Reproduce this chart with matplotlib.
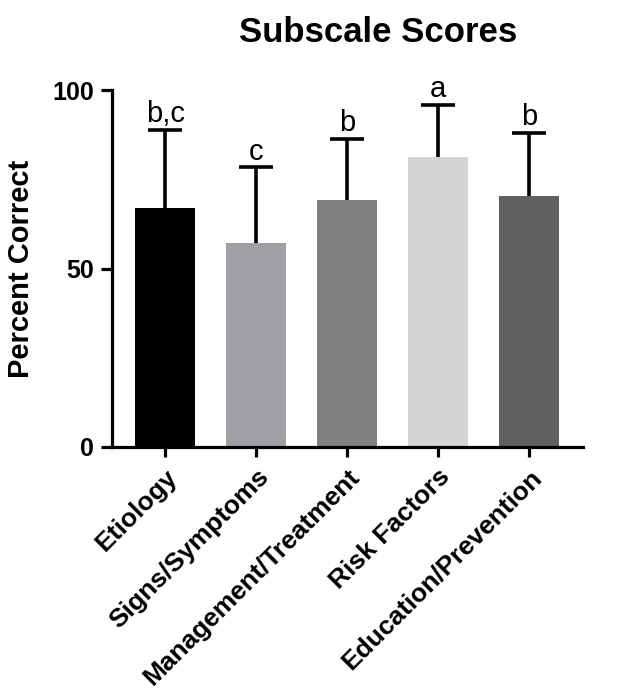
import matplotlib
matplotlib.use('Agg')
import matplotlib.pyplot as plt

plt.rcParams['font.family'] = ['Liberation Sans', 'DejaVu Sans']

categories = ['Etiology', 'Signs/Symptoms', 'Management/Treatment', 'Risk Factors', 'Education/Prevention']
means = [67.0, 57.1, 69.3, 81.3, 70.5]
sd = [22.0, 21.3, 17.1, 14.7, 17.5]
letters = ['b,c', 'c', 'b', 'a', 'b']
colors = ['#000000', '#a0a0a4', '#808080', '#d4d4d4', '#606060']

fig = plt.figure(figsize=(6.39, 6.96), dpi=100)
ax = fig.add_axes([0.175, 0.358, 0.737, 0.512])

x = range(len(categories))
ax.bar(x, means, width=0.66, color=colors, zorder=2)
eb = ax.errorbar(x, means, yerr=[[0] * len(sd), sd], fmt='none', ecolor='black',
                 elinewidth=2.6, capsize=12, capthick=2.6, zorder=1, clip_on=False)
# only the upper half of the error bar is shown
eb[1][0].set_visible(False)
for i in x:
    ax.text(i, means[i] + sd[i] + 2.2, letters[i], ha='center', va='baseline', fontsize=21)

ax.set_xlim(-0.59, 4.59)
ax.set_ylim(0, 100)
ax.set_yticks([0, 50, 100])
ax.set_xticks(list(x))
ax.set_xticklabels(categories, rotation=45, ha='right', rotation_mode='anchor',
                   fontsize=19, fontweight='bold')
ax.tick_params(axis='y', labelsize=18, width=2.3, length=8, pad=5)
ax.tick_params(axis='x', width=2.3, length=7, pad=6)
for lab in ax.get_yticklabels():
    lab.set_fontweight('bold')
ax.spines['top'].set_visible(False)
ax.spines['right'].set_visible(False)
ax.spines['left'].set_linewidth(2.3)
ax.spines['bottom'].set_linewidth(2.3)
ax.set_ylabel('Percent Correct', fontsize=21, fontweight='bold', labelpad=12)
fig.text(0.591, 0.954, 'Subscale Scores', ha='center', va='center', fontsize=25, fontweight='bold')

fig.savefig('out.png', dpi=100)
